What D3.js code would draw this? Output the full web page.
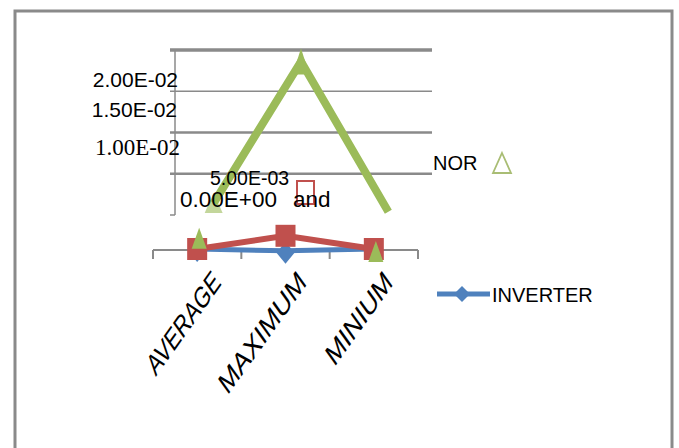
<!DOCTYPE html>
<html>
<head>
<meta charset="utf-8">
<script src="https://cdn.jsdelivr.net/npm/d3@7"></script>
<style>
  body { margin: 0; background: #fff; }
  text { font-family: "Liberation Sans", Arial, sans-serif; fill: #000; }
</style>
</head>
<body>
<svg id="chart"></svg>
<script>
  // Data
  const categories = ["AVERAGE", "MAXIMUM", "MINIUM"];
  const norValues = [0.00145, 0.0186, 0.0004];        // green line (upper panel)
  const norMarkerValues = [0.0009, -0.0002];          // green triangles (lower panel, AVERAGE / MINIUM)
  const andValues = [0, 0.0011, 0];                   // red series
  const inverterValues = [0, -0.00015, 0];            // blue series
  const yTicks = [0, 0.005, 0.01, 0.015, 0.02];
  const yTickLabels = ["0.00E+00", "5.00E-03", "1.00E-02", "1.50E-02", "2.00E-02"];

  const width = 679, height = 448;
  const green = "#9BBB59", red = "#C0504D", blue = "#4F81BD", grey = "#8a8a8a";

  const svg = d3.select("#chart")
      .attr("width", width)
      .attr("height", height)
      .attr("viewBox", `0 0 ${width} ${height}`);

  // outer frame (runs off the bottom of the picture)
  svg.append("rect")
      .attr("x", 15).attr("y", 11)
      .attr("width", 657).attr("height", 470)
      .attr("fill", "none").attr("stroke", grey).attr("stroke-width", 3);

  // Scales: upper panel (NOR line) and lower panel (flat series)
  const xTop = d3.scaleBand().domain(categories).range([170, 432]);
  const yTop = d3.scaleLinear().domain([0, 0.02]).range([215, 50]);
  const xLow = d3.scaleBand().domain(categories).range([153, 418]);
  const yLow = d3.scaleLinear().domain([0, 0.001]).range([249, 237]);
  const cxTop = c => xTop(c) + xTop.bandwidth() / 2;
  const cxLow = c => xLow(c) + xLow.bandwidth() / 2;

  const tri = (w, h) => `M0,${-h / 2}L${w / 2},${h / 2}L${-w / 2},${h / 2}Z`;
  const diamond = (w, h) => `M0,${-h / 2}L${w / 2},0L0,${h / 2}L${-w / 2},0Z`;

  // gridlines
  const gridWidths = [0, 2.5, 2.5, 1.5, 3.5];
  svg.append("g")
    .selectAll("line")
    .data(yTicks.slice(1))
    .join("line")
      .attr("x1", 170).attr("x2", 432)
      .attr("y1", d => yTop(d)).attr("y2", d => yTop(d))
      .attr("stroke", grey)
      .attr("stroke-width", (d, i) => gridWidths[i + 1]);

  // upper value axis
  svg.append("line")
      .attr("x1", 175).attr("x2", 175)
      .attr("y1", yTop(0.02)).attr("y2", yTop(0))
      .attr("stroke", grey).attr("stroke-width", 1.5);
  svg.append("line")
      .attr("x1", 170).attr("x2", 175)
      .attr("y1", yTop(0)).attr("y2", yTop(0))
      .attr("stroke", grey).attr("stroke-width", 1.5);

  // green NOR line
  const norPts = categories.map((c, i) => [cxTop(c), yTop(norValues[i])]);
  svg.append("path")
      .attr("d", d3.line()(norPts))
      .attr("fill", "none")
      .attr("stroke", green)
      .attr("stroke-width", 8)
      .attr("stroke-linejoin", "miter");
  svg.append("g")
    .selectAll("path")
    .data(norPts.slice(0, 2))
    .join("path")
      .attr("d", (d, i) => i === 0 ? tri(18, 20) : tri(17, 26))
      .attr("transform", d => `translate(${d[0]},${d[1]})`)
      .attr("fill", green)
      .attr("fill-opacity", (d, i) => i === 0 ? 0.6 : 1);

  // y tick labels (placed loosely, as in the picture)
  const labelLayout = [
    { x: 180, dy: -8, size: 22.5, anchor: "start" },
    { x: 210, dy: 11, size: 19.5, anchor: "start" },
    { x: 180, dy: 22.5, size: 23, anchor: "end", serif: true },
    { x: 177, dy: 26, size: 21, anchor: "end" },
    { x: 178, dy: 37, size: 21, anchor: "end" }
  ];
  svg.append("g")
    .selectAll("text")
    .data(yTicks)
    .join("text")
      .attr("x", (d, i) => labelLayout[i].x)
      .attr("y", (d, i) => yTop(d) + labelLayout[i].dy)
      .attr("text-anchor", (d, i) => labelLayout[i].anchor)
      .style("font-size", (d, i) => labelLayout[i].size + "px")
      .style("font-family", (d, i) => labelLayout[i].serif ? "'Liberation Serif', 'Times New Roman', serif" : null)
      .text((d, i) => yTickLabels[i]);

  // stray legend entries for "and" (red) and NOR (green)
  svg.append("rect")
      .attr("x", 297).attr("y", 181).attr("width", 17).attr("height", 23)
      .attr("fill", "none").attr("stroke", red).attr("stroke-width", 2);
  svg.append("text")
      .attr("x", 293).attr("y", 207)
      .style("font-size", "22.5px")
      .text("and");
  svg.append("text")
      .attr("x", 433).attr("y", 170)
      .style("font-size", "20px")
      .text("NOR");
  svg.append("path")
      .attr("d", tri(18, 20))
      .attr("transform", "translate(502,163)")
      .attr("fill", "none").attr("stroke", "#a9bd74").attr("stroke-width", 1.8);

  // lower category axis
  const ly = yLow(0) + 1;
  svg.append("line")
      .attr("x1", 153).attr("x2", 418)
      .attr("y1", ly).attr("y2", ly)
      .attr("stroke", grey).attr("stroke-width", 2);
  svg.append("g")
    .selectAll("line")
    .data(categories.map(c => xLow(c)).concat([418]))
    .join("line")
      .attr("x1", d => d).attr("x2", d => d)
      .attr("y1", ly).attr("y2", ly + 9)
      .attr("stroke", grey).attr("stroke-width", 2);

  // blue INVERTER series
  const invPts = categories.map((c, i) => [cxLow(c), yLow(inverterValues[i])]);
  svg.append("path")
      .attr("d", d3.line()(invPts))
      .attr("fill", "none").attr("stroke", blue).attr("stroke-width", 5);
  svg.append("g")
    .selectAll("path")
    .data(invPts)
    .join("path")
      .attr("d", diamond(18, 22))
      .attr("transform", d => `translate(${d[0]},${d[1] + 2})`)
      .attr("fill", blue);

  // red "and" series
  const andPts = categories.map((c, i) => [cxLow(c), yLow(andValues[i])]);
  svg.append("path")
      .attr("d", d3.line()(andPts))
      .attr("fill", "none").attr("stroke", red).attr("stroke-width", 6);
  svg.append("g")
    .selectAll("rect")
    .data(andPts)
    .join("rect")
      .attr("x", d => d[0] - 10).attr("y", d => d[1] - 11)
      .attr("width", 20).attr("height", 22)
      .attr("fill", red);

  // green triangles in the lower panel
  const norLowCats = [categories[0], categories[2]];
  svg.append("g")
    .selectAll("path")
    .data(norMarkerValues)
    .join("path")
      .attr("d", tri(15, 21))
      .attr("transform", (d, i) => `translate(${cxLow(norLowCats[i]) + 2},${yLow(d)})`)
      .attr("fill", green);

  // rotated category labels (stretched vertically like the picture)
  const catLayout = [
    { dx: 25, len: 94 },
    { dx: 22, len: 113 },
    { dx: 20, len: 84 }
  ];
  svg.append("g")
    .selectAll("text")
    .data(categories)
    .join("text")
      .attr("transform", (c, i) => `translate(${cxLow(c) + catLayout[i].dx},284) scale(1,1.4) rotate(-45)`)
      .attr("text-anchor", "end")
      .attr("textLength", (c, i) => catLayout[i].len)
      .attr("lengthAdjust", "spacingAndGlyphs")
      .style("font-size", "22px")
      .text(c => c);

  // INVERTER legend
  svg.append("line")
      .attr("x1", 437).attr("x2", 490).attr("y1", 294).attr("y2", 294)
      .attr("stroke", blue).attr("stroke-width", 5);
  svg.append("path")
      .attr("d", diamond(16, 16))
      .attr("transform", "translate(462,294)")
      .attr("fill", blue);
  svg.append("text")
      .attr("x", 492).attr("y", 302)
      .style("font-size", "20px")
      .text("INVERTER");
</script>
</body>
</html>
